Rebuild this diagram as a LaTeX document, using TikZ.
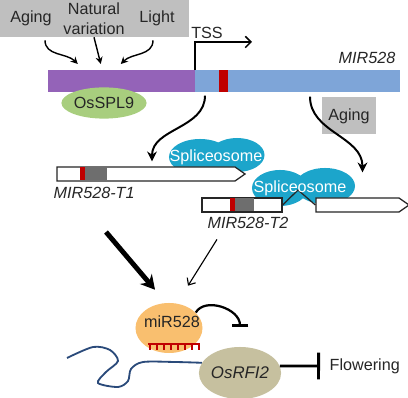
\documentclass[tikz,border=0pt]{standalone}
\usepackage{fontspec}
\setmainfont{Liberation Sans}
\usetikzlibrary{arrows.meta,positioning,shapes.geometric,shapes.symbols}
\definecolor{cuegrey}{HTML}{BFBFBF}
\definecolor{promviolet}{HTML}{9463B8}
\definecolor{geneblue}{HTML}{7EA5D8}
\definecolor{exonred}{HTML}{C00000}
\definecolor{exongrey}{HTML}{6E6E6E}
\definecolor{splgreen}{HTML}{A8CE7E}
\definecolor{mirorange}{HTML}{F9BF6F}
\definecolor{rfikhaki}{HTML}{C6C09F}
\definecolor{splcyan}{HTML}{1CA5CB}
\definecolor{rnablue}{HTML}{2A4A7A}
\definecolor{inkgrey}{HTML}{262626}

\begin{document}
\begin{tikzpicture}[
  x=0.025cm, y=-0.025cm,
  font=\fontsize{11.5}{14}\selectfont, text=inkgrey,
  cue/.style={fill=cuegrey, align=center, inner sep=0pt,
              minimum width=1.575cm, minimum height=0.925cm},
  bar/.style={inner sep=0pt, minimum height=0.55cm, anchor=north west},
  blob/.style={ellipse, fill=splcyan, inner sep=0pt},
  spltxt/.style={text=white, inner sep=1pt},
  transcript/.style={signal, signal to=east, signal pointer angle=70,
              draw=inkgrey, fill=white, line width=0.9pt, inner sep=0pt,
              minimum height=0.35cm},
  exonbox/.style={draw=inkgrey, fill=white, line width=0.9pt, inner sep=0pt,
              minimum height=0.35cm},
  glbl/.style={font=\fontsize{11.5}{14}\selectfont\itshape, inner sep=1pt},
  cuearr/.style={-{Stealth[length=5pt,width=5pt]}, line width=1pt, black},
  curvy/.style={-{Stealth[length=7pt,width=7pt]}, line width=1.4pt, black},
  thinarr/.style={-{Straight Barb[length=4pt,width=7pt]}, line width=0.8pt, black},
  thickarr/.style={-{Stealth[length=10pt,width=11pt]}, line width=3.5pt, black},
  inhib/.style={-{Bar[width=12pt,line width=1.6pt]}, line width=1.6pt, black},
]
\useasboundingbox (0,0) rectangle (408,398);
\clip (0,0) rectangle (408,398);

% ---------------- upstream cues ------------------------------------
\node[cue] (aging) at (31,18.5) {Aging};
\node[cue] (natvar) at (94,18.5) {Natural\\variation};
\node[cue] (light) at (157,18.5) {Light};

% ---------------- MIR528 locus -------------------------------------
\node[bar, fill=promviolet, minimum width=3.675cm] (prom) at (48,70) {};
\node[bar, fill=geneblue, minimum width=5.125cm] (gene) at (195,70) {};
\node[bar, fill=exonred, minimum width=0.225cm] (mirsite) at (219,70) {};
\node[glbl, anchor=east] (genelbl) at (397,58) {MIR528};

\coordinate (tssend) at (252,42);
\draw[-{Straight Barb[length=4pt,width=8pt]}, line width=1.1pt, black]
  (gene.north west) |- (tssend);
\node[inner sep=1pt] (tsslbl) at (207,33) {TSS};

\node[ellipse, fill=splgreen, inner sep=0pt, minimum width=1.85cm,
      minimum height=0.78cm] (spl9) at (104,103) {OsSPL9};

\draw[cuearr] ([shift={(14,3)}]aging.south) to[out=-90,in=135]
  ([shift={(-44,-6)}]prom.north);
\draw[cuearr] (natvar.south) -- ([shift={(-21,-6)}]prom.north);
\draw[cuearr] ([shift={(-4,3)}]light.south) to[out=-90,in=45]
  ([shift={(-1,-6)}]prom.north);

% ---------------- splicing -----------------------------------------
\node[blob, minimum width=1.55cm, minimum height=0.9cm] (sp1a) at (200,157) {};
\node[blob, minimum width=1.375cm, minimum height=0.85cm] (sp1b) at (237,155) {};
\node[blob, minimum width=1.4cm, minimum height=0.9cm] (sp2a) at (280,188) {};
\node[blob, minimum width=1.5cm, minimum height=0.9cm] (sp2b) at (325,186) {};

\node[transcript, minimum width=4.7cm] (t1) at (146,174) {};
\fill[exonred] (80,167.5) rectangle (85,180.5);
\fill[exongrey] (85,167.5) rectangle (107,180.5);

\node[exonbox, minimum width=2cm] (t2a) at (242,205) {};
\fill[exonred] (230,198.5) rectangle (235,211.5);
\fill[exongrey] (235,198.5) rectangle (254,211.5);
\node[transcript, minimum width=2.325cm] (t2b) at (357.5,205) {};
\coordinate (intron) at (298,190);
\draw[line width=0.9pt, inkgrey] (t2a.east) -- (intron) -- (t2b.west);

\node[spltxt] (sp1) at (216,157) {Spliceosome};
\node[spltxt] (sp2) at (300,188) {Spliceosome};

\node[glbl, anchor=west] (t1lbl) at (52,193) {MIR528-T1};
\node[glbl] (t2lbl) at (248,223) {MIR528-T2};

\node[cue, minimum width=1.35cm] (aging2) at (349,116) {Aging};

\draw[curvy] ([shift={(10,3)}]gene.south west) to[out=-90,in=90]
  ([shift={(6,-5)}]t1.north);
\draw[curvy] ([shift={(115,4)}]gene.south west) to[out=-90,in=90]
  ([shift={(5,-25)}]t2b.north);

% ---------------- miR528 and its target ----------------------------
\node[ellipse, fill=mirorange, inner sep=0pt, minimum width=1.675cm,
      minimum height=1.25cm] (mirna) at (169,328) {};
\node[inner sep=1pt] (mirlbl) at (172,322) {miR528};
\draw[exonred, line width=1.2pt] (148,344) -- (200,344);
\foreach \tx in {150,157,...,199}
  \draw[exonred, line width=1pt] (\tx,344) -- (\tx,350);

\coordinate (thickfrom) at (106,232);
\draw[thickarr] (thickfrom) -- ([shift={(-14,-13)}]mirna.north);
\draw[thinarr] ([shift={(-31,9)}]t2lbl.south) -- ([shift={(19,-17)}]mirna.north);

\node[ellipse, fill=rfikhaki, inner sep=0pt, minimum width=1.65cm,
      minimum height=1.3cm, font=\fontsize{12}{14}\selectfont\itshape]
  (rfi) at (240,373) {OsRFI2};
\draw[rnablue, line width=1.3pt] plot[smooth, tension=0.5] coordinates
  {(rfi.165) (175,362) (143,362) (131,369) (128,381) (118,387) (98,383)
   (106,372) (118,361) (110,350) (93,347) (67,358)};

\draw[inhib] (mirna.30) to[out=60,in=90] ([shift={(0,-20)}]rfi.north);

\node[anchor=west, inner sep=1pt] (flow) at (328,366) {Flowering};
\draw[-{Bar[width=19pt,line width=2pt]}, line width=2pt, black]
  (rfi.10) -- ([shift={(-8,0)}]flow.west);

\end{tikzpicture}
\end{document}
